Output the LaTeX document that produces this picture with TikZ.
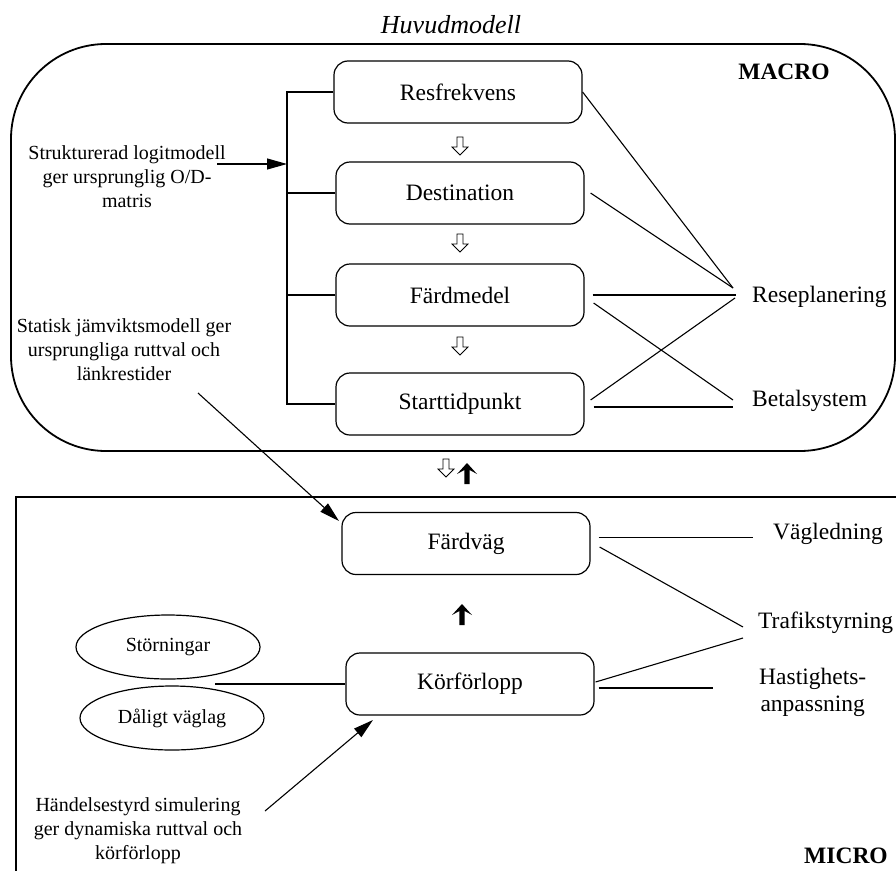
\documentclass[tikz,border=0pt]{standalone}
\usepackage{fontspec}
\setmainfont{Liberation Serif}
\usetikzlibrary{arrows.meta,shapes.geometric,calc}
\newcommand{\lblfont}{\fontsize{23.5}{27}\selectfont}
\newcommand{\notefont}{\fontsize{20}{24}\selectfont}
\newcommand{\titlefont}{\fontsize{26}{30}\selectfont}
\begin{document}
\begin{tikzpicture}[x=1pt,y=-1pt,
  box/.style={draw,line width=1.2pt,rounded corners=14pt,minimum width=248pt,minimum height=62pt,font=\lblfont,inner sep=0pt},
  lbl/.style={font=\lblfont,inner sep=0pt,anchor=west},
  note/.style={font=\notefont,inner sep=0pt,align=center},
  ell/.style={draw,ellipse,line width=1.2pt,minimum width=184pt,minimum height=64pt,font=\notefont,inner sep=0pt},
  conn/.style={line width=1.1pt},
  tri/.style={line width=1.1pt,-{Triangle[length=20pt,width=11pt]}},
  frame/.style={line width=1.8pt},
  hdown/.pic={\draw[line width=0.8pt] (-3,-9) -- (3,-9) -- (3,1) -- (8,1) -- (0,9) -- (-8,1) -- (-3,1) -- cycle;},
  bup/.pic={\fill (-10,1) -- (0,-10) -- (10,1) -- (2.6,-3) -- (2.6,11) -- (-2.6,11) -- (-2.6,-3) -- cycle;}
]
\useasboundingbox (0,0) rectangle (896,870);

% frames
\draw[frame,rounded corners=95pt] (11,44) rectangle (895,451);
\draw[frame] (16,871) -- (16,497) -- (897,497);

% title and region labels
\node[font=\titlefont\itshape,inner sep=0pt] (title) at (451,25) {Huvudmodell};
\node[font=\lblfont\bfseries,inner sep=0pt] (macro) at (784,72) {MACRO};
\node[font=\lblfont\bfseries,inner sep=0pt] (micro) at (846,856) {MICRO};

% main boxes
\node[box] (res) at (458,92) {Resfrekvens};
\node[box] (dest) at (460,193) {Destination};
\node[box] (fm) at (460,295) {Färdmedel};
\node[box] (st) at (460,404) {Starttidpunkt};
\node[box] (fv) at (466,543.5) {Färdväg};
\node[box] (kf) at (470,684) {Körförlopp};

% right labels
\node[lbl] (rese) at (752,297) {Reseplanering};
\node[lbl] (betal) at (752,401) {Betalsystem};
\node[lbl] (vag) at (773,534) {Vägledning};
\node[lbl] (traf) at (758,623) {Trafikstyrning};
\node[lbl,align=center] (hast) at (759,692) {Hastighets-\\anpassning};

% notes
\node[note] (logit) at (127,177) {Strukturerad logitmodell\\ger ursprunglig O/D-\\matris};
\node[note] (stat) at (124,350) {Statisk jämviktsmodell ger\\ursprungliga ruttval och\\länkrestider};
\node[note] (hand) at (138,831) {Händelsestyrd simulering\\ger dynamiska ruttval och\\körförlopp};

% ellipses
\node[ell] (stor) at (168,647) {Störningar};
\node[ell] (dal) at (172,718) {Dåligt väglag};

% coordinates
\coordinate (bt) at (287,92);
\coordinate (bb) at (287,404);
\coordinate (la) at (217,164);
\coordinate (rpA) at (733,288);
\coordinate (rpB) at (736,295);
\coordinate (rpC) at (735,298);
\coordinate (bpA) at (733,400);
\coordinate (bpB) at (733,407);
\coordinate (vp) at (753,537.5);
\coordinate (tpA) at (743,627);
\coordinate (tpB) at (743,638);
\coordinate (hp) at (713,688);
\coordinate (sa) at (198,393);
\coordinate (fa) at (339,521);
\coordinate (ha) at (265,811);
\coordinate (ka) at (373,720);
\coordinate (el) at (215,684);

% left bracket
\draw[conn] (res.west) -- (bt) -- (bb) -- (st.west);
\draw[conn] (dest.west) -- (dest.west -| bt);
\draw[conn] (fm.west) -- (fm.west -| bt);
\draw[tri] (la) -- (la -| bt);

% macro connectors
\draw[conn] (res.east) -- (rpA);
\draw[conn] ([shift={(6,0)}]dest.east) -- (rpA);
\draw[conn] ([shift={(8,0)}]fm.east) -- (rpB);
\draw[conn] ([shift={(9,8)}]fm.east) -- (bpA);
\draw[conn] ([shift={(6,-4)}]st.east) -- (rpC);
\draw[conn] ([shift={(9,3)}]st.east) -- (bpB);

% micro connectors
\draw[conn] ([shift={(8,-6)}]fv.east) -- (vp);
\draw[conn] ([shift={(9,3.5)}]fv.east) -- (tpA);
\draw[conn] ([shift={(1,-2)}]kf.east) -- (tpB);
\draw[conn] ([shift={(4,4)}]kf.east) -- (hp);
\draw[conn] (el) -- (kf.west);
\draw[tri] (sa) -- (fa);
\draw[tri] (ha) -- (ka);

% block arrows
\pic at (460,146) {hdown};
\pic at (460,243) {hdown};
\pic at (460,346) {hdown};
\pic at (446,468) {hdown};
\pic at (467,473) {bup};
\pic at (462,614) {bup};
\end{tikzpicture}
\end{document}
